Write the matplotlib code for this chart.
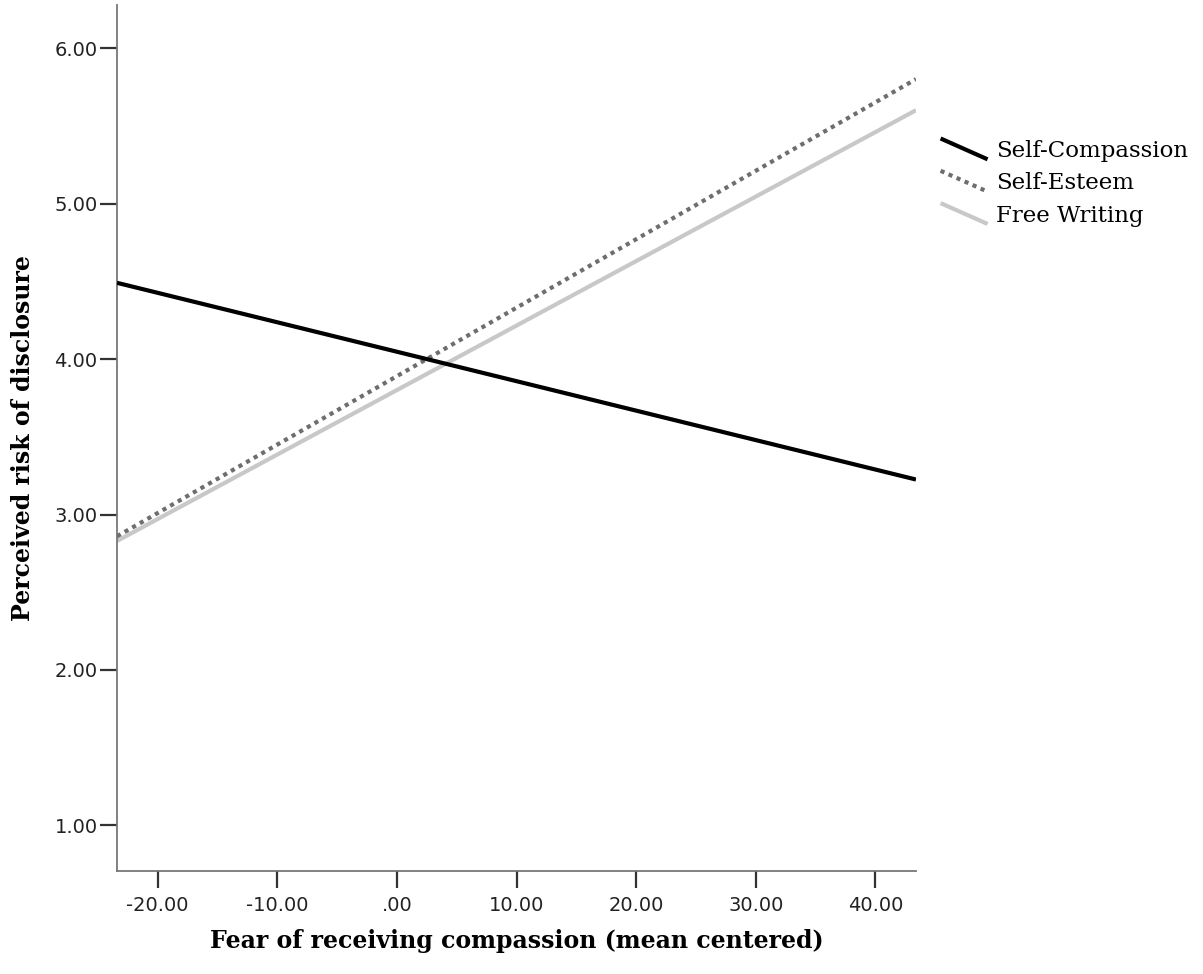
import numpy as np
import matplotlib.pyplot as plt
from matplotlib.lines import Line2D
from matplotlib.legend_handler import HandlerLine2D

# Data (simple slopes)
fear_x = [-23.4, 43.4]
self_compassion = [4.49, 3.225]
self_esteem = [2.86, 5.80]
free_writing = [2.83, 5.60]

x_ticks = [-20, -10, 0, 10, 20, 30, 40]
x_tick_labels = ["-20.00", "-10.00", ".00", "10.00", "20.00", "30.00", "40.00"]
y_ticks = [1, 2, 3, 4, 5, 6]
y_tick_labels = ["1.00", "2.00", "3.00", "4.00", "5.00", "6.00"]


# SPSS-style legend keys: short diagonal segments
class DiagonalHandler(HandlerLine2D):
    def create_artists(self, legend, orig_handle, xdescent, ydescent,
                       width, height, fontsize, trans):
        line = Line2D([-xdescent, -xdescent + width],
                      [-ydescent + height * 1.15, -ydescent - height * 0.15])
        self.update_prop(line, orig_handle, legend)
        line.set_transform(trans)
        return [line]


fig = plt.figure(figsize=(12.03, 9.74), dpi=100)
ax = fig.add_axes([0.0973, 0.1057, 0.6641, 0.8892])

ax.plot(fear_x, free_writing, color="#c8c8c8", lw=3.0, solid_capstyle="butt",
        label="Free Writing", zorder=2)
ax.plot(fear_x, self_esteem, color="#6e6e6e", lw=3.0, linestyle=(0, (1, 1.1)),
        dash_capstyle="butt", label="Self-Esteem", zorder=3)
ax.plot(fear_x, self_compassion, color="black", lw=3.0, solid_capstyle="butt",
        label="Self-Compassion", zorder=4)

ax.set_xlim(fear_x[0], fear_x[1])
ax.set_ylim(0.707, 6.277)

ax.set_xticks(x_ticks)
ax.set_xticklabels(x_tick_labels)
ax.set_yticks(y_ticks)
ax.set_yticklabels(y_tick_labels)

for s in ["top", "right"]:
    ax.spines[s].set_visible(False)
for s in ["left", "bottom"]:
    ax.spines[s].set_color("#777777")
    ax.spines[s].set_linewidth(1.3)

ax.tick_params(axis="both", length=12, width=1.6, color="#333333",
               labelsize=14, labelcolor="#222222")
ax.tick_params(axis="x", pad=6)
ax.tick_params(axis="y", pad=2)

ax.set_xlabel("Fear of receiving compassion (mean centered)", fontsize=17,
              fontweight="bold", family="DejaVu Serif", labelpad=10)
ax.set_ylabel("Perceived risk of disclosure", fontsize=17,
              fontweight="bold", family="DejaVu Serif")
ax.yaxis.set_label_coords(-0.103, 0.5)

h, l = ax.get_legend_handles_labels()
order = [2, 1, 0]
leg = ax.legend([h[i] for i in order], [l[i] for i in order],
                loc="upper left", bbox_to_anchor=(1.005, 0.868),
                frameon=False, handler_map={Line2D: DiagonalHandler()},
                prop={"family": "DejaVu Serif", "size": 16.5},
                handlelength=2.05, handletextpad=0.38, labelspacing=0.45)

fig.savefig("out.png", dpi=100)
